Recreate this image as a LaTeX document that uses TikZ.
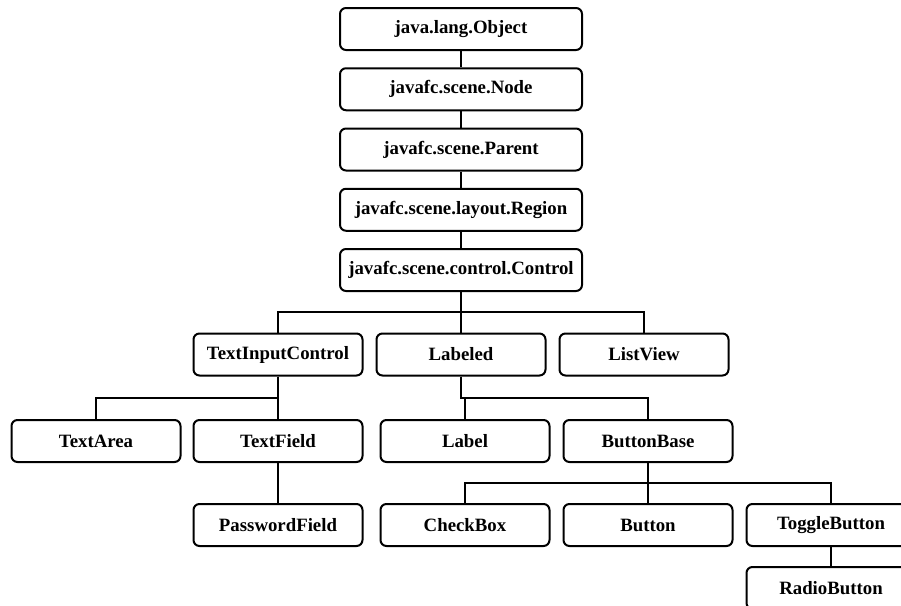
\documentclass[tikz,border=0pt]{standalone}
\usepackage{fontspec}
\setmainfont{Liberation Serif}
\usepackage{tikz}
\usetikzlibrary{positioning, calc}
\tikzset{node distance=60.25pt, every node/.style={font=\bfseries\fontsize{18.8}{22}\selectfont},
cls/.style={draw, line width=2pt, rounded corners=6pt, minimum width=169pt, minimum height=42pt, inner sep=0pt},
topcls/.style={cls, minimum width=242pt},
hier/.style={line width=2pt, to path={(\tikztostart.south) -- ($(\tikztostart.south)!.5!(\tikztostart.south |- \tikztotarget.north)$) -| (\tikztotarget.north)}},
}

\begin{document}
\begin{tikzpicture}
            \path[use as bounding box, clip] (0,0) rectangle (901pt,-605pt);
            \node[topcls] (obj) at (461pt,-29pt) {java.lang.Object};
            \node[topcls, below of=obj](nd) {javafc.scene.Node};
            \node[topcls, below of=nd](par) {javafc.scene.Parent};
            \node[topcls, below of=par](reg) {javafc.scene.layout.Region};
            \node[topcls, below of=reg](ctrl) {javafc.scene.control.Control};
            \node[cls, node distance=84.5pt, below of=ctrl](lbd) {Labeled};
            \node[cls, node distance=183pt, left of=lbd](tic) {TextInputControl};
            \node[cls, node distance=183pt, right of=lbd](lst) {ListView};
            \node[cls, node distance=86.5pt, below of=tic](tfd) {TextField};
            \node[cls, node distance=182pt, left of=tfd](tar) {TextArea};
            \node[cls, node distance=86.5pt, below of=lbd, xshift=4pt](lbl) {Label};
            \node[cls, node distance=183pt, right of=lbl](bbs) {ButtonBase};
            \node[cls, node distance=84pt, below of=tfd](pwd) {PasswordField};
            \node[cls, node distance=84pt, below of=lbl](chk) {CheckBox};
            \node[cls, node distance=84pt, below of=bbs](btn) {Button};
            \node[cls, node distance=183pt, right of=btn](tgl) {ToggleButton};
            \node[cls, node distance=63pt, below of=tgl](rad) {RadioButton};
            
            \draw (obj) edge[hier] (nd)
                (nd) edge[hier] (par)
                (par) edge[hier] (reg)
                (reg) edge[hier] (ctrl)
                (ctrl) edge[hier] (tic)
                (ctrl) edge[hier] (lbd)
                (ctrl) edge[hier] (lst)
                (tic) edge[hier] (tar)
                (tic) edge[hier] (tfd)
                (tfd) edge[hier] (pwd)
                (lbd) edge[hier] (lbl)
                (lbd) edge[hier] (bbs)
                (bbs) edge[hier] (chk)
                (bbs) edge[hier] (btn)
                (bbs) edge[hier] (tgl)
                (tgl) edge[hier] (rad)
                ;
        \end{tikzpicture}
\end{document}
